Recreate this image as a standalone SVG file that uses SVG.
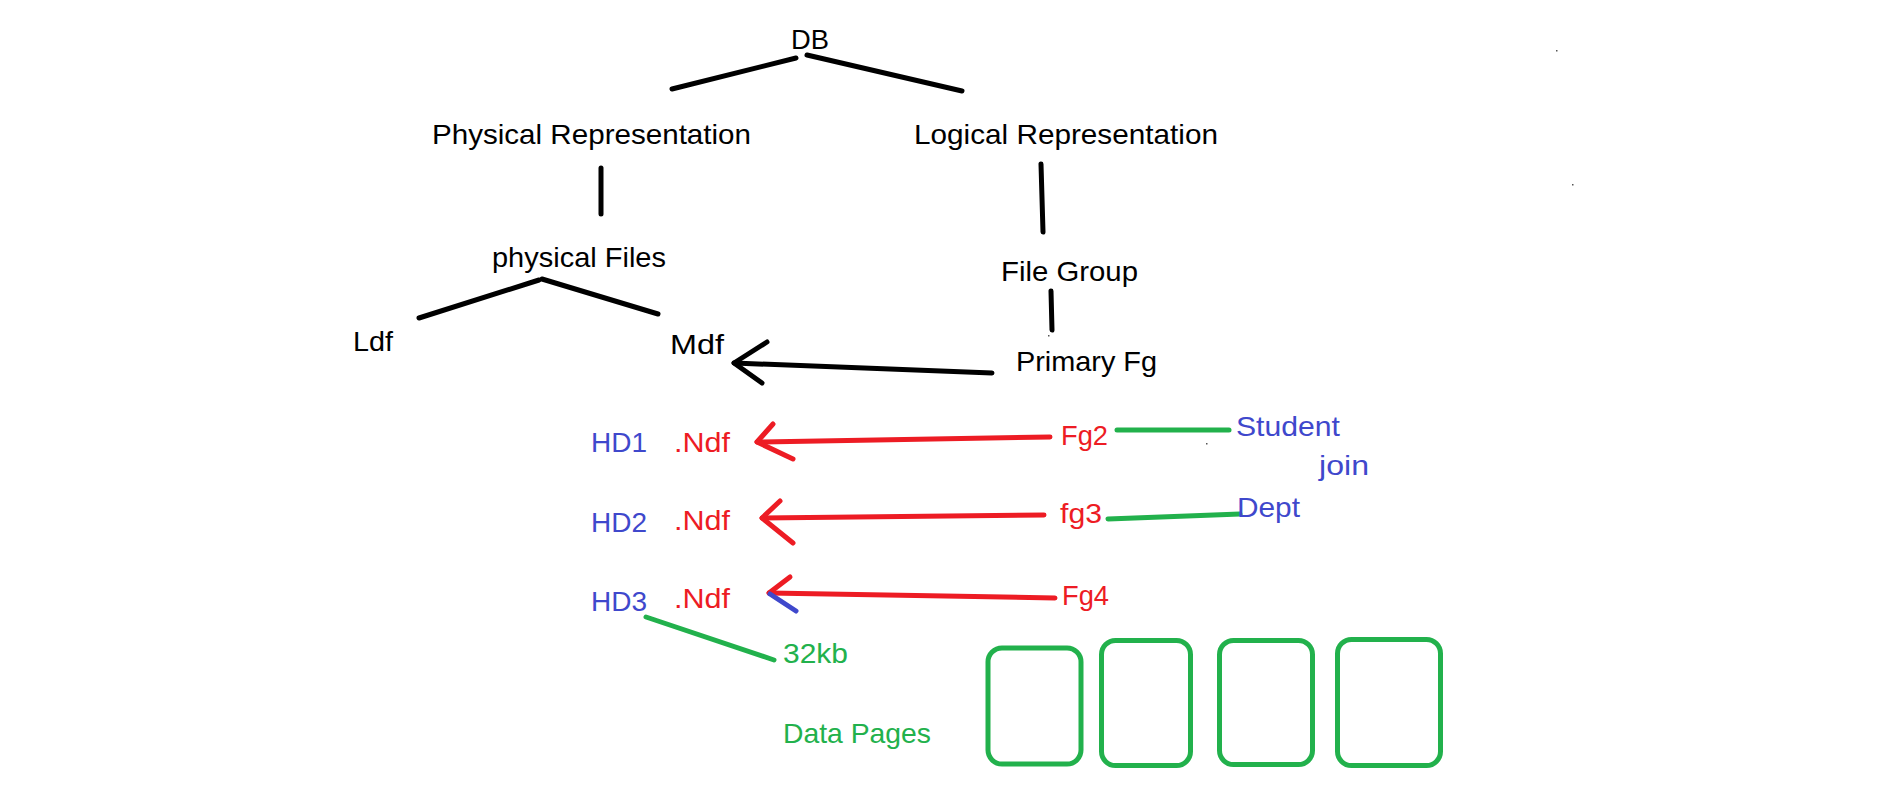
<svg xmlns="http://www.w3.org/2000/svg" width="1884" height="802" viewBox="0 0 1884 802">
<style>
text{font-family:"Liberation Sans",Arial,sans-serif;font-size:28px}
.k{fill:#000}
.r{fill:#ED1C24}
.b{fill:#3F48CC}
.g{fill:#22B14C}
.lk{stroke:#000;stroke-width:5;stroke-linecap:round;stroke-linejoin:round;fill:none}
.lr{stroke:#ED1C24;stroke-width:5;stroke-linecap:round;stroke-linejoin:round;fill:none}
.lb{stroke:#3F48CC;stroke-width:5;stroke-linecap:round;fill:none}
.lg{stroke:#22B14C;stroke-width:5;stroke-linecap:round;fill:none}
.page{stroke:#22B14C;stroke-width:5;fill:none}
</style>
<rect width="1884" height="802" fill="#fff"/>
<g id="connectors">
<line class="lk" x1="672" y1="89" x2="796" y2="58"/>
<line class="lk" x1="807" y1="55" x2="962" y2="91"/>
<line class="lk" x1="601" y1="168" x2="601" y2="214"/>
<line class="lk" x1="1041" y1="164" x2="1043" y2="232"/>
<line class="lk" x1="419" y1="318" x2="539" y2="280"/>
<line class="lk" x1="542" y1="279" x2="658" y2="314"/>
<line class="lk" x1="1051" y1="291" x2="1052" y2="330"/>
<line class="lk" x1="992" y1="373" x2="734" y2="363"/>
<polyline class="lk" points="767,342 734,363 762,383"/>
<line class="lr" x1="1050" y1="437" x2="757" y2="442"/>
<polyline class="lr" points="773,424 757,442 793,459"/>
<line class="lr" x1="1044" y1="515" x2="762" y2="518"/>
<polyline class="lr" points="780,501 762,518 793,543"/>
<line class="lr" x1="1055" y1="598" x2="769" y2="593"/>
<line class="lr" x1="790" y1="577" x2="769" y2="593"/>
<line class="lb" x1="770" y1="594" x2="796" y2="611"/>
<line class="lg" x1="1117" y1="430" x2="1229" y2="430"/>
<line class="lg" x1="1108" y1="519" x2="1240" y2="514"/>
<line class="lg" x1="646" y1="617" x2="774" y2="660"/>
</g>
<g id="db"><text class="k" x="791" y="49" textLength="38" lengthAdjust="spacingAndGlyphs">DB</text></g>
<g id="physical-representation"><text class="k" x="432" y="144" textLength="319" lengthAdjust="spacingAndGlyphs">Physical Representation</text></g>
<g id="logical-representation"><text class="k" x="914" y="144" textLength="304" lengthAdjust="spacingAndGlyphs">Logical Representation</text></g>
<g id="physical-files"><text class="k" x="492" y="267" textLength="174" lengthAdjust="spacingAndGlyphs">physical Files</text></g>
<g id="file-group"><text class="k" x="1001" y="281" textLength="137" lengthAdjust="spacingAndGlyphs">File Group</text></g>
<g id="ldf"><text class="k" x="353" y="351" textLength="40" lengthAdjust="spacingAndGlyphs">Ldf</text></g>
<g id="mdf"><text class="k" x="670" y="354" textLength="54" lengthAdjust="spacingAndGlyphs">Mdf</text></g>
<g id="primary-fg"><text class="k" x="1016" y="371" textLength="141" lengthAdjust="spacingAndGlyphs">Primary Fg</text></g>
<g id="hd1"><text class="b" x="591" y="452" textLength="56" lengthAdjust="spacingAndGlyphs">HD1</text></g>
<g id="ndf1"><text class="r" x="674" y="452" textLength="56" lengthAdjust="spacingAndGlyphs">.Ndf</text></g>
<g id="fg2"><text class="r" x="1061" y="445" textLength="47" lengthAdjust="spacingAndGlyphs">Fg2</text></g>
<g id="student"><text class="b" x="1236" y="436" textLength="104" lengthAdjust="spacingAndGlyphs">Student</text></g>
<g id="join"><text class="b" x="1319" y="475" textLength="50" lengthAdjust="spacingAndGlyphs">join</text></g>
<g id="dept"><text class="b" x="1237" y="517" textLength="63" lengthAdjust="spacingAndGlyphs">Dept</text></g>
<g id="hd2"><text class="b" x="591" y="532" textLength="56" lengthAdjust="spacingAndGlyphs">HD2</text></g>
<g id="ndf2"><text class="r" x="674" y="530" textLength="56" lengthAdjust="spacingAndGlyphs">.Ndf</text></g>
<g id="fg3"><text class="r" x="1060" y="523" textLength="42" lengthAdjust="spacingAndGlyphs">fg3</text></g>
<g id="hd3"><text class="b" x="591" y="611" textLength="56" lengthAdjust="spacingAndGlyphs">HD3</text></g>
<g id="ndf3"><text class="r" x="674" y="608" textLength="56" lengthAdjust="spacingAndGlyphs">.Ndf</text></g>
<g id="fg4"><text class="r" x="1062" y="605" textLength="47" lengthAdjust="spacingAndGlyphs">Fg4</text></g>
<g id="kb32"><text class="g" x="783" y="663" textLength="65" lengthAdjust="spacingAndGlyphs">32kb</text></g>
<g id="data-pages"><text class="g" x="783" y="743" textLength="148" lengthAdjust="spacingAndGlyphs">Data Pages</text></g>
<g id="page1"><rect class="page" x="988" y="648" width="93" height="116" rx="14"/></g>
<g id="page2"><rect class="page" x="1101.5" y="640.5" width="89" height="125" rx="14"/></g>
<g id="page3"><rect class="page" x="1219.5" y="640.5" width="93" height="124" rx="14"/></g>
<g id="page4"><rect class="page" x="1337.5" y="639.5" width="103" height="126" rx="14"/></g>
<g id="specks" fill="#555">
<rect x="1556" y="50" width="1.5" height="1.5"/>
<rect x="1572" y="184" width="1.5" height="1.5"/>
<rect x="1206" y="443" width="1.5" height="1.5"/>
<rect x="1048" y="335" width="1.5" height="1.5"/>
</g>
</svg>
